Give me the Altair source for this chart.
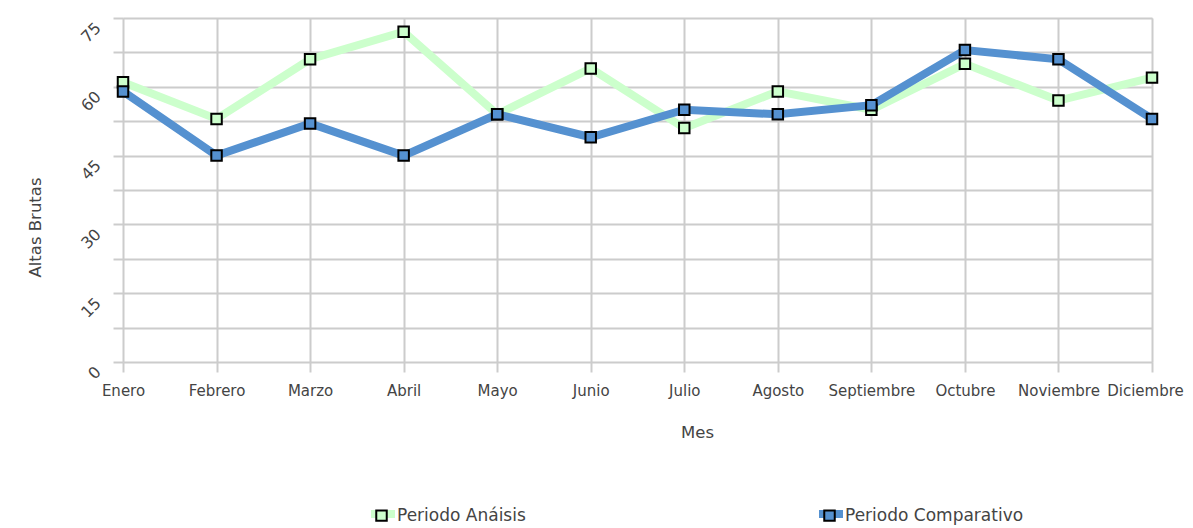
import altair as alt
import pandas as pd

meses = ["Enero", "Febrero", "Marzo", "Abril", "Mayo", "Junio", "Julio",
         "Agosto", "Septiembre", "Octubre", "Noviembre", "Diciembre"]
analisis = [61, 53, 66, 72, 54, 64, 51, 59, 55, 65, 57, 62]
comparativo = [59, 45, 52, 45, 54, 49, 55, 54, 56, 68, 66, 53]
series = ["Periodo Anáisis", "Periodo Comparativo"]
colores = ["#ccffcc", "#5591d0"]
y_ticks = [0, 7.5, 15, 22.5, 30, 37.5, 45, 52.5, 60, 67.5, 75]

# marker legend keys differ only by a trailing space (keeps legends separate)
marcas = [s + " " for s in series]

rows = []
for m, a, c in zip(meses, analisis, comparativo):
    rows.append({"Mes": m, "Serie": series[0], "Marca": marcas[0], "Valor": a, "orden": 2})
    rows.append({"Mes": m, "Serie": series[1], "Marca": marcas[1], "Valor": c, "orden": 1})
df = pd.DataFrame(rows)

FONT = "DejaVu Sans"
TXT = "#444444"
GRID = "#cccccc"

x = alt.X("Mes:N", sort=meses,
          scale=alt.Scale(type="point", padding=0),
          axis=alt.Axis(title="Mes", labelAngle=0, domain=False,
                        grid=True, gridColor=GRID, gridWidth=2,
                        ticks=True, tickColor=GRID, tickWidth=2, tickSize=10,
                        labelPadding=11, labelFont=FONT, labelFontSize=15,
                        labelOffset={"condition": {"test": "datum.label == 'Diciembre'",
                                                   "value": -7}, "value": 0},
                        labelColor=TXT, titleFont=FONT, titleFontSize=16.5,
                        titleFontWeight="normal", titleColor=TXT,
                        titleX=574, titleY=70, titleBaseline="middle"))
y = alt.Y("Valor:Q", scale=alt.Scale(domain=[0, 75], nice=False),
          axis=alt.Axis(title="Altas Brutas", values=y_ticks,
                        labelExpr="datum.value % 15 == 0 ? datum.label : ''",
                        domain=False, grid=True, gridColor=GRID, gridWidth=2,
                        ticks=True, tickColor=GRID, tickWidth=2, tickSize=10,
                        labelAngle=-45, labelAlign="right", labelBaseline="middle",
                        labelOffset=7, labelPadding=15,
                        labelFont=FONT, labelFontSize=16, labelColor=TXT,
                        titleFont=FONT, titleFontSize=16.5, titleFontWeight="normal",
                        titleColor=TXT, titleX=-88, titleY=209, titleAngle=270,
                        titleBaseline="middle"))

color = alt.Color("Serie:N", sort=series,
                  scale=alt.Scale(domain=series, range=colores),
                  legend=alt.Legend(orient="none", legendX=244, legendY=480,
                                    direction="horizontal", title=None,
                                    symbolType="stroke", symbolSize=576,
                                    symbolStrokeWidth=8, labelExpr="''",
                                    labelFontSize=17,
                                    labelOffset=2, columnPadding=392))
fill = alt.Fill("Marca:N", sort=marcas,
                scale=alt.Scale(domain=marcas, range=colores),
                legend=alt.Legend(orient="none", legendX=250, legendY=489,
                                  direction="horizontal", title=None,
                                  symbolType="square", symbolSize=110,
                                  symbolStrokeColor="black", symbolStrokeWidth=2,
                                  labelFont=FONT, labelFontSize=17, labelColor=TXT,
                                  labelOffset=7, columnPadding=294,
                                  labelLimit=300))

lines = alt.Chart(df).mark_line(strokeWidth=8).encode(
    x=x, y=y, color=color, detail="Serie:N",
    order=alt.Order("orden:Q"))
points = alt.Chart(df).mark_point(shape="square", filled=True, size=110,
                                  stroke="black", strokeWidth=2, opacity=1).encode(
    x=x, y=y, fill=fill)

chart = alt.layer(lines, points).properties(
    width=1029, height=344,
    autosize=alt.AutoSizeParams(type="none"),
    padding={"left": 115, "top": 10, "right": 33, "bottom": 166},
).configure_view(stroke=None).configure(background="white")

chart.save("out.html", embed_options={"renderer": "svg", "actions": False})
